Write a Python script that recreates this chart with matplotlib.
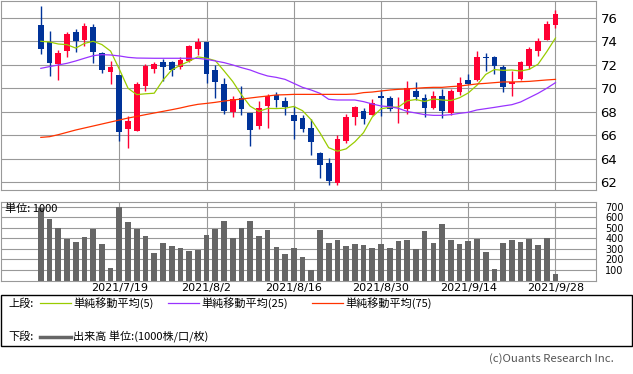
import matplotlib.pyplot as plt
from matplotlib.patches import Rectangle
from matplotlib.lines import Line2D

plt.rcParams['font.family'] = ['DejaVu Sans', 'Noto Sans CJK JP']
CJK = ['Noto Sans CJK JP', 'DejaVu Sans']

# daily prices (60 sessions)
open_ = [75.40, 73.98, 72.07, 73.21, 74.80, 74.12, 75.23, 72.98, 71.42, 71.13,
         66.55, 66.38, 70.19, 71.67, 72.24, 72.24, 71.85, 72.33, 73.35, 73.95,
         71.56, 70.37, 68.00, 69.14, 67.89, 66.78, 68.49, 69.43, 68.91, 67.72,
         67.46, 66.61, 64.47, 63.62, 61.91, 65.50, 67.55, 68.06, 67.72, 69.34,
         69.17, 68.45, 68.23, 69.77, 69.17, 68.32, 69.34, 67.89, 69.68, 70.71,
         70.71, 72.70, 72.67, 71.82, 70.40, 70.79, 71.90, 73.18, 74.12, 75.40]
close = [73.35, 72.16, 73.01, 74.63, 74.01, 75.32, 73.10, 71.59, 71.82, 66.30,
         67.21, 70.37, 71.93, 72.07, 71.85, 71.59, 72.41, 73.61, 73.95, 71.25,
         70.56, 68.06, 69.08, 68.23, 66.44, 68.32, 69.34, 69.00, 68.40, 67.21,
         66.52, 65.41, 63.45, 62.08, 65.67, 67.55, 68.40, 67.38, 68.74, 69.17,
         68.23, 68.50, 70.02, 69.26, 68.34, 69.34, 68.06, 69.77, 70.45, 70.37,
         72.67, 72.62, 71.90, 70.11, 70.50, 72.24, 73.35, 74.04, 75.49, 76.34]
high = [77.02, 74.89, 73.27, 74.80, 75.03, 75.57, 75.49, 73.13, 72.33, 71.13,
        67.63, 70.54, 72.07, 72.27, 72.53, 72.33, 72.67, 73.69, 74.29, 73.95,
        71.99, 70.88, 69.34, 70.19, 67.89, 68.91, 69.51, 69.68, 69.26, 68.49,
        67.72, 67.38, 64.56, 64.05, 66.01, 67.80, 68.49, 68.32, 69.08, 69.85,
        69.34, 69.26, 70.62, 70.54, 69.51, 69.77, 69.94, 69.94, 70.96, 71.22,
        73.18, 73.01, 72.76, 71.99, 71.48, 72.33, 73.52, 74.29, 75.74, 76.68]
low = [72.93, 71.05, 70.71, 72.70, 73.13, 73.64, 72.19, 71.33, 70.39, 65.53,
       64.93, 66.38, 69.80, 71.33, 70.62, 71.05, 71.65, 72.27, 72.84, 70.48,
       69.20, 67.80, 67.55, 67.72, 65.07, 66.55, 66.61, 68.40, 67.72, 65.67,
       66.27, 64.30, 62.34, 61.74, 61.74, 65.33, 66.87, 66.95, 67.72, 67.63,
       68.06, 67.04, 67.80, 69.00, 67.55, 68.23, 67.46, 67.72, 69.43, 70.37,
       70.62, 71.48, 71.22, 69.68, 69.34, 70.71, 71.65, 72.76, 74.12, 75.15]

ma5 = [74.01, 73.95, 73.78, 73.72, 73.43, 73.83, 74.01, 73.73, 73.17, 71.63,
       70.00, 69.46, 69.53, 69.58, 70.69, 71.56, 71.97, 72.31, 72.68, 72.56,
       72.36, 71.49, 70.58, 69.44, 68.47, 68.03, 68.28, 68.27, 68.30, 68.45,
       68.09, 67.31, 66.20, 64.93, 64.63, 64.83, 65.43, 66.22, 67.55, 68.25,
       68.38, 68.40, 68.93, 69.04, 68.87, 69.09, 69.00, 68.95, 69.19, 69.60,
       70.26, 71.18, 71.60, 71.53, 71.56, 71.47, 71.62, 72.05, 73.12, 74.29]
ma25 = [71.70, 71.85, 71.99, 72.13, 72.33, 72.56, 72.78, 72.87, 72.84, 72.76,
        72.64, 72.58, 72.57, 72.56, 72.56, 72.56, 72.56, 72.56, 72.55, 72.47,
        72.33, 72.19, 71.99, 71.76, 71.56, 71.28, 71.05, 70.93, 70.76, 70.42,
        70.08, 69.85, 69.57, 69.06, 69.00, 69.00, 69.00, 68.86, 68.66, 68.49,
        68.43, 68.29, 68.02, 67.89, 67.75, 67.69, 67.69, 67.75, 67.86, 67.95,
        68.15, 68.26, 68.37, 68.49, 68.60, 68.83, 69.20, 69.57, 70.00, 70.48]
ma75 = [65.81, 65.87, 66.04, 66.24, 66.44, 66.61, 66.78, 66.95, 67.12, 67.29,
        67.46, 67.60, 67.75, 67.89, 68.03, 68.17, 68.32, 68.49, 68.63, 68.71,
        68.80, 68.91, 69.00, 69.08, 69.17, 69.26, 69.34, 69.43, 69.45, 69.48,
        69.48, 69.48, 69.48, 69.48, 69.48, 69.48, 69.51, 69.63, 69.68, 69.77,
        69.85, 69.91, 69.94, 70.00, 70.05, 70.08, 70.08, 70.14, 70.19, 70.28,
        70.37, 70.42, 70.48, 70.54, 70.54, 70.56, 70.59, 70.65, 70.71, 70.76]

volume = [690, 583, 500, 396, 365, 412, 488, 346, 118, 699,
          554, 488, 421, 260, 355, 327, 308, 279, 292, 431,
          488, 564, 403, 497, 564, 421, 478, 317, 251, 308,
          223, 96, 478, 355, 384, 327, 346, 336, 308, 346,
          308, 374, 384, 298, 469, 355, 535, 384, 346, 374,
          393, 270, 109, 355, 384, 365, 393, 336, 403, 62]

date_pos = [9, 19, 29, 39, 49, 59]
date_labels = ['2021/7/19', '2021/8/2', '2021/8/16', '2021/8/30', '2021/9/14', '2021/9/28']

RED = '#ff0033'
BLUE = '#003399'
C5, C25, C75 = '#99cc00', '#9933ff', '#ff3300'
GRID = '#999999'

W, H = 633, 374
fig = plt.figure(figsize=(W / 100, H / 100), dpi=100)


def fx(px):
    return px / W


def fy(py):
    return 1 - py / H


ax = fig.add_axes([fx(0.7), fy(190), fx(594.9), (190 - 0.5) / H])
axv = fig.add_axes([fx(0.7), fy(280.5), fx(594.9), (280.5 - 201.5) / H])

x = list(range(len(close)))
cols = [RED if c >= o else BLUE for o, c in zip(open_, close)]
bottoms = [min(o, c) for o, c in zip(open_, close)]
heights = [max(abs(c - o), 0.05) for o, c in zip(open_, close)]

ax.vlines(x, low, high, colors=cols, lw=1, zorder=2)
ax.bar(x, heights, bottom=bottoms, width=0.65, color=cols, lw=0, zorder=2)
ax.plot(x, ma5, color=C5, lw=0.9, zorder=3)
ax.plot(x, ma25, color=C25, lw=0.9, zorder=3)
ax.plot(x, ma75, color=C75, lw=0.9, zorder=3)

axv.bar(x, volume, width=0.65, color='#666666', lw=0, zorder=2)

for a in (ax, axv):
    a.set_xlim(-4.6, 63.6)
    a.set_xticks(date_pos)
    a.grid(True, color=GRID, lw=0.8, zorder=0)
    a.set_axisbelow(True)
    a.yaxis.tick_right()
    for s in a.spines.values():
        s.set_color(GRID)
        s.set_linewidth(0.8)

ax.set_ylim(61.32, 77.49)
ax.set_yticks(range(62, 77, 2))
ax.tick_params(axis='x', length=0, labelbottom=False)
ax.tick_params(axis='y', length=0, pad=3.5, labelsize=9.5)

axv.set_ylim(0, 750)
axv.set_yticks(range(100, 701, 100))
axv.set_xticklabels(date_labels)
axv.tick_params(axis='x', length=0, pad=1.5, labelsize=8)
axv.tick_params(axis='y', length=0, pad=7, labelsize=7)

fig.text(fx(5), fy(208.3), '単位: 1000', fontsize=8, va='center', family=CJK)

# legend box
fig.add_artist(Rectangle((fx(0.5), fy(346.3)), fx(631.8), (346.3 - 295) / H,
                         transform=fig.transFigure, fill=False, ec='black', lw=1))
r1, r2 = 303.3, 336.7
fig.text(fx(8), fy(r1), '上段:', fontsize=8, va='center', family=CJK)
for x0, col, lab in [(40, C5, '単純移動平均(5)'), (168, C25, '単純移動平均(25)'),
                     (312, C75, '単純移動平均(75)')]:
    fig.add_artist(Line2D([fx(x0), fx(x0 + 31)], [fy(r1), fy(r1)], color=col, lw=0.9,
                          transform=fig.transFigure))
    fig.text(fx(x0 + 33), fy(r1), lab, fontsize=8, va='center', family=CJK)
fig.text(fx(8), fy(r2), '下段:', fontsize=8, va='center', family=CJK)
fig.add_artist(Line2D([fx(40), fx(71)], [fy(r2), fy(r2)], color='#666666', lw=2.5,
                      transform=fig.transFigure))
fig.text(fx(73), fy(r2), '出来高 単位:(1000株/口/枚)', fontsize=8, va='center', family=CJK)

fig.text(fx(614), fy(359), '(c)Ouants Research Inc.', fontsize=8.2, ha='right', va='center',
         color='#555555', family=CJK)

fig.savefig('out.png', dpi=100)
